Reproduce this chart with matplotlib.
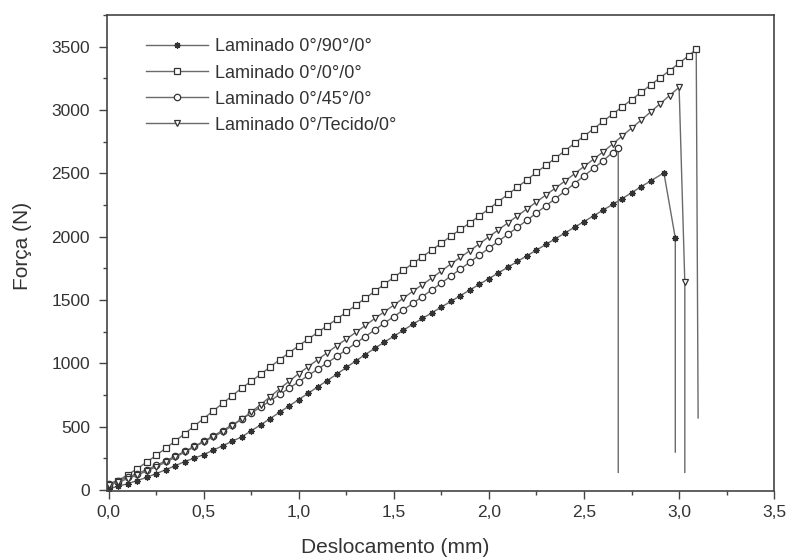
import matplotlib
matplotlib.use("Agg")
import matplotlib.pyplot as plt
from matplotlib.ticker import MultipleLocator, FuncFormatter

plt.rcParams['font.family'] = ['Liberation Sans', 'DejaVu Sans']

# shared displacement grid (mm)
disp = [0.00, 0.05, 0.10, 0.15, 0.20, 0.25, 0.30, 0.35, 0.40, 0.45,
        0.50, 0.55, 0.60, 0.65, 0.70, 0.75, 0.80, 0.85, 0.90, 0.95,
        1.00, 1.05, 1.10, 1.15, 1.20, 1.25, 1.30, 1.35, 1.40, 1.45,
        1.50, 1.55, 1.60, 1.65, 1.70, 1.75, 1.80, 1.85, 1.90, 1.95,
        2.00, 2.05, 2.10, 2.15, 2.20, 2.25, 2.30, 2.35, 2.40, 2.45,
        2.50, 2.55, 2.60, 2.65, 2.70, 2.75, 2.80, 2.85, 2.90, 2.95,
        3.00, 3.05]

labels = ["Laminado 0°/90°/0°", "Laminado 0°/0°/0°",
          "Laminado 0°/45°/0°", "Laminado 0°/Tecido/0°"]

# force (N) on the grid, then the failure tail of each laminate
force_90 = [10, 30, 50, 75, 100, 130, 160, 192, 225, 252,
            280, 315, 350, 385, 420, 468, 515, 565, 615, 665,
            715, 765, 815, 865, 915, 968, 1020, 1070, 1120, 1168,
            1215, 1262, 1310, 1355, 1400, 1445, 1490, 1535, 1580, 1625,
            1670, 1715, 1760, 1805, 1850, 1895, 1940, 1985, 2030, 2075,
            2120, 2165, 2210, 2255, 2300, 2348, 2395, 2440]
tail_x_90 = [2.92, 2.98, 2.98]
tail_y_90 = [2505, 1990, 300]

force_0 = [40, 75, 120, 168, 220, 274, 330, 387, 445, 505,
           565, 625, 685, 745, 805, 860, 915, 972, 1030, 1085,
           1140, 1192, 1245, 1298, 1350, 1405, 1460, 1515, 1570, 1625,
           1680, 1735, 1790, 1842, 1895, 1950, 2005, 2058, 2110, 2165,
           2220, 2278, 2335, 2392, 2450, 2508, 2565, 2622, 2680, 2738,
           2795, 2852, 2910, 2968, 3025, 3082, 3140, 3198, 3255, 3312,
           3370, 3430]
tail_x_0 = [3.09, 3.10]
tail_y_0 = [3480, 570]

force_45 = [50, 75, 100, 130, 160, 195, 230, 268, 305, 345,
            385, 428, 470, 515, 560, 608, 655, 705, 755, 805,
            855, 905, 955, 1005, 1055, 1108, 1160, 1212, 1265, 1318,
            1370, 1422, 1475, 1528, 1580, 1635, 1690, 1745, 1800, 1855,
            1910, 1965, 2020, 2075, 2130, 2188, 2245, 2302, 2360, 2420,
            2480, 2540, 2600, 2665]
tail_x_45 = [2.68, 2.68]
tail_y_45 = [2700, 140]

force_tec = [40, 62, 90, 118, 150, 184, 220, 258, 300, 340,
             380, 420, 460, 508, 560, 616, 675, 738, 800, 860,
             920, 975, 1030, 1085, 1140, 1192, 1245, 1300, 1355, 1408,
             1460, 1515, 1570, 1622, 1675, 1730, 1785, 1838, 1890, 1945,
             2000, 2055, 2110, 2165, 2220, 2275, 2330, 2385, 2440, 2497,
             2555, 2612, 2670, 2732, 2795, 2858, 2920, 2985, 3050, 3115,
             3180]
tail_x_tec = [3.03, 3.03]
tail_y_tec = [1640, 140]

series = [
    (force_90, tail_x_90, tail_y_90, (8, 2, 0), "#1a1a1a"),
    (force_0, tail_x_0, tail_y_0, "s", "white"),
    (force_45, tail_x_45, tail_y_45, "o", "white"),
    (force_tec, tail_x_tec, tail_y_tec, "v", "white"),
]

fig = plt.figure(figsize=(7.9, 5.59), dpi=100)
ax = fig.add_axes([0.135, 0.121, 0.845, 0.852])

for (f, tx, ty, mk, fc), lab in zip(series, labels):
    x = disp[:len(f)] + tx
    y = f + ty
    # the bottom of the failure drop carries no marker
    ax.plot(x, y, color="#6a6a6a", lw=1.0, marker=mk, ms=4.6,
            mfc=fc, mec="#333333", mew=0.9,
            markevery=list(range(len(x) - 1)), label=lab)

ax.set_xlim(-0.01, 3.5)
ax.set_ylim(-10, 3750)

ax.xaxis.set_major_locator(MultipleLocator(0.5))
ax.xaxis.set_minor_locator(MultipleLocator(0.25))
ax.yaxis.set_major_locator(MultipleLocator(500))
ax.yaxis.set_minor_locator(MultipleLocator(250))
ax.xaxis.set_major_formatter(FuncFormatter(lambda v, p: f"{v:.1f}".replace(".", ",")))

ax.tick_params(which="both", direction="out", color="#444444",
               labelsize=12.5, labelcolor="#333333", width=1.0)
ax.tick_params(which="major", length=6, pad=4)
ax.tick_params(which="minor", length=3)
ax.tick_params(axis="y", which="major", pad=6)

for sp in ax.spines.values():
    sp.set_color("#444444")
    sp.set_linewidth(1.2)

ax.set_xlabel("Deslocamento (mm)", fontsize=15, color="#333333")
ax.set_ylabel("Força (N)", fontsize=15, color="#333333")
ax.xaxis.set_label_coords(0.432, -0.098)
ax.yaxis.set_label_coords(-0.112, 0.515)

ax.legend(loc="upper left", bbox_to_anchor=(0.035, 0.985), frameon=False,
          fontsize=13, handlelength=3.4, labelspacing=0.5,
          handletextpad=0.4, labelcolor="#333333")

plt.savefig("out.png", dpi=100)
plt.close()
